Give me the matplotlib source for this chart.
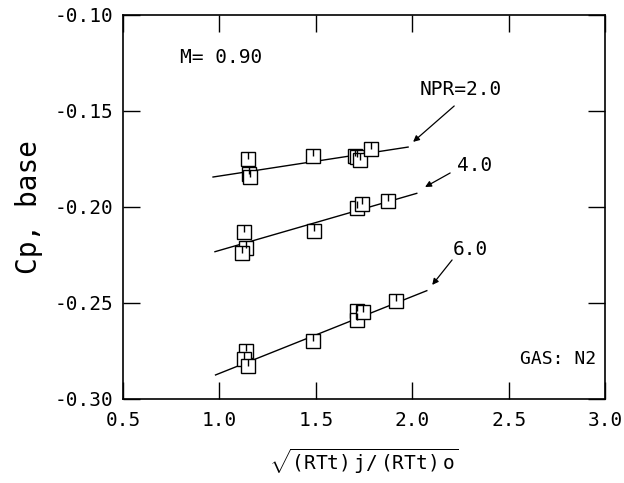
import matplotlib
matplotlib.use("Agg")
import matplotlib.pyplot as plt
from matplotlib.path import Path

plt.rcParams['font.family'] = 'DejaVu Sans Mono'
plt.rcParams['axes.unicode_minus'] = False
plt.rcParams['mathtext.fontset'] = 'custom'
plt.rcParams['mathtext.rm'] = 'DejaVu Sans Mono'

# data: sqrt((RTt)j/(RTt)o) vs Cp,base
npr2_x = [1.147, 1.155, 1.160, 1.484, 1.705, 1.712, 1.729, 1.784]
npr2_y = [-0.1752, -0.1830, -0.1845, -0.1733, -0.1735, -0.1738, -0.1755, -0.1700]
npr4_x = [1.129, 1.136, 1.115, 1.491, 1.712, 1.738, 1.872]
npr4_y = [-0.2128, -0.2215, -0.2238, -0.2125, -0.2007, -0.1984, -0.1969]
npr6_x = [1.140, 1.130, 1.150, 1.487, 1.712, 1.712, 1.743, 1.916]
npr6_y = [-0.2750, -0.2790, -0.2830, -0.2696, -0.2540, -0.2589, -0.2545, -0.2490]

# faired curves
fit2_x, fit2_y = [0.967, 1.978], [-0.1844, -0.1688]
fit4_x, fit4_y = [0.977, 2.023], [-0.2233, -0.1929]
fit6_x, fit6_y = [0.980, 2.075], [-0.2875, -0.2436]

xticks = [0.5, 1.0, 1.5, 2.0, 2.5, 3.0]
yticks = [-0.30, -0.25, -0.20, -0.15, -0.10]

flag = Path([(0, 0), (0, 1)], [Path.MOVETO, Path.LINETO])

fig = plt.figure(figsize=(6.24, 4.83), dpi=100)
ax = fig.add_axes([0.197, 0.174, 0.773, 0.795])

for fx, fy in [(fit2_x, fit2_y), (fit4_x, fit4_y), (fit6_x, fit6_y)]:
    ax.plot(fx, fy, color='black', lw=1.0, zorder=2)

for px, py in [(npr2_x, npr2_y), (npr4_x, npr4_y), (npr6_x, npr6_y)]:
    ax.plot(px, py, ls='none', marker='s', ms=9.5, mfc='white', mec='black', mew=1.0, zorder=3)
    ax.plot(px, py, ls='none', marker=flag, ms=9.5, mec='black', mew=1.0, zorder=4)

arrow = dict(arrowstyle='-|>', color='black', lw=0.9, mutation_scale=9, shrinkA=0, shrinkB=0)
ax.annotate('', xy=(2.004, -0.1661), xytext=(2.217, -0.1474), arrowprops=arrow)
ax.annotate('', xy=(2.066, -0.1896), xytext=(2.196, -0.1823), arrowprops=arrow)
ax.annotate('', xy=(2.103, -0.2406), xytext=(2.206, -0.2276), arrowprops=arrow)

ax.text(2.04, -0.139, 'NPR=2.0', fontsize=14, va='center', ha='left')
ax.text(2.232, -0.1784, '4.0', fontsize=14, va='center', ha='left')
ax.text(2.21, -0.2224, '6.0', fontsize=14, va='center', ha='left')
ax.text(0.796, -0.1224, 'M= 0.90', fontsize=14, va='center', ha='left')
ax.text(2.95, -0.279, 'GAS: N2', fontsize=13, va='center', ha='right')

ax.set_xlim(0.5, 3.0)
ax.set_ylim(-0.30, -0.10)
ax.set_xticks(xticks)
ax.set_yticks(yticks)
ax.set_xticklabels(['%.1f' % v for v in xticks])
ax.set_yticklabels(['%.2f' % v for v in yticks])
ax.tick_params(direction='in', length=12, width=1, top=True, right=True, labelsize=14)
ax.tick_params(axis='x', pad=9)
ax.tick_params(axis='y', pad=7)
for s in ax.spines.values():
    s.set_linewidth(1.2)

ax.set_ylabel('Cp, base', fontsize=20, labelpad=8)
ax.set_xlabel(r'$\sqrt{\mathrm{(RTt)\,j/\,(RTt)\,o}}$', fontsize=14, labelpad=12)

fig.savefig('out.png', dpi=100)
